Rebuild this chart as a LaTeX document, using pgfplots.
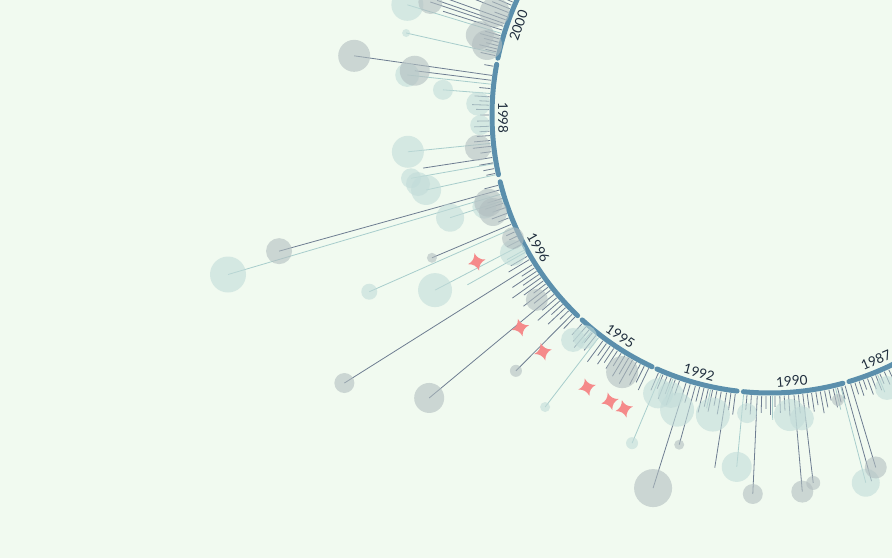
\documentclass[border=0pt]{standalone}
\usepackage{pgfplots}
\pgfplotsset{compat=1.18}
\usepackage{fontspec}
\setmainfont{Lato}

\definecolor{bg}{HTML}{F1FAF0}
\definecolor{arcc}{HTML}{5B8FAC}
\definecolor{stemd}{RGB}{110,125,145}
\definecolor{steml}{HTML}{A8CDCC}
\definecolor{bubl}{RGB}{194,220,217}
\definecolor{bubg}{RGB}{178,190,192}
\definecolor{starc}{HTML}{F58A8A}
\definecolor{txt}{HTML}{1F2D3D}

% four-pointed star
\pgfdeclareplotmark{sparkle}{%
  \pgfpathmoveto{\pgfqpoint{0pt}{\pgfplotmarksize}}%
  \pgfpathquadraticcurveto{\pgfqpoint{0.18\pgfplotmarksize}{0.18\pgfplotmarksize}}{\pgfqpoint{\pgfplotmarksize}{0pt}}%
  \pgfpathquadraticcurveto{\pgfqpoint{0.18\pgfplotmarksize}{-0.18\pgfplotmarksize}}{\pgfqpoint{0pt}{-\pgfplotmarksize}}%
  \pgfpathquadraticcurveto{\pgfqpoint{-0.18\pgfplotmarksize}{-0.18\pgfplotmarksize}}{\pgfqpoint{-\pgfplotmarksize}{0pt}}%
  \pgfpathquadraticcurveto{\pgfqpoint{-0.18\pgfplotmarksize}{0.18\pgfplotmarksize}}{\pgfqpoint{0pt}{\pgfplotmarksize}}%
  \pgfpathclose\pgfusepathqfill}

% filled disc without outline
\pgfdeclareplotmark{disc}{%
  \pgfpathcircle{\pgfpointorigin}{\pgfplotmarksize}\pgfusepathqfill}

% stems: angle (deg), radius; each stem runs from r=281 outwards, nan rows break the line
\pgfplotstableread{
a r
153.5 281
153.5 300
nan nan
154.5 281
154.5 296
nan nan
155.5 281
155.5 310
nan nan
156.3 281
156.3 298
nan nan
157.0 281
157.0 320
nan nan
157.8 281
157.8 300
nan nan
158.6 281
158.6 345
nan nan
159.5 281
159.5 294
nan nan
160.2 281
160.2 360
nan nan
161.0 281
161.0 352
nan nan
161.6 281
161.6 358
nan nan
162.4 281
162.4 343
nan nan
163.6 281
163.6 297
nan nan
164.3 281
164.3 301
nan nan
165.0 281
165.0 296
nan nan
165.7 281
165.7 293
nan nan
166.4 281
166.4 299
nan nan
167.0 281
167.0 292
nan nan
167.8 281
167.8 296
nan nan
170.0 281
170.0 290
nan nan
171.9 281
171.9 420
nan nan
172.9 281
172.9 358
nan nan
174.6 281
174.6 292
nan nan
176.3 281
176.3 296
nan nan
177.2 281
177.2 291
nan nan
178.0 281
178.0 298
nan nan
178.9 281
178.9 294
nan nan
180.0 281
180.0 290
nan nan
181.2 281
181.2 293
nan nan
182.3 281
182.3 296
nan nan
183.3 281
183.3 291
nan nan
184.2 281
184.2 294
nan nan
185.2 281
185.2 297
nan nan
186.4 281
186.4 299
nan nan
187.5 281
187.5 292
nan nan
188.7 281
188.7 351
nan nan
189.8 281
189.8 295
nan nan
191.0 281
191.0 292
nan nan
192.0 281
192.0 290
nan nan
194.5 281
194.5 295
nan nan
195.5 281
195.5 509.5
nan nan
197.3 281
197.3 296
nan nan
198.3 281
198.3 300
nan nan
199.3 281
199.3 294
nan nan
200.5 281
200.5 297
nan nan
201.5 281
201.5 292
nan nan
202.9 281
202.9 367
nan nan
204.6 281
204.6 290
nan nan
205.6 281
205.6 289
nan nan
206.6 281
206.6 294
nan nan
207.5 281
207.5 290
nan nan
210.2 281
210.2 300
nan nan
211.0 281
211.0 305
nan nan
212.2 281
212.2 503
nan nan
213.0 281
213.0 296
nan nan
213.8 281
213.8 310
nan nan
214.6 281
214.6 300
nan nan
215.4 281
215.4 316
nan nan
216.2 281
216.2 305
nan nan
217.0 281
217.0 296
nan nan
217.8 281
217.8 312
nan nan
218.6 281
218.6 302
nan nan
219.7 281
219.7 443
nan nan
220.6 281
220.6 300
nan nan
221.5 281
221.5 310
nan nan
222.4 281
222.4 296
nan nan
223.3 281
223.3 305
nan nan
224.2 281
224.2 293
nan nan
225.2 281
225.2 360.6
nan nan
226.0 281
226.0 297
nan nan
228.0 281
228.0 296
nan nan
229.0 281
229.0 300
nan nan
229.9 281
229.9 304
nan nan
230.8 281
230.8 294
nan nan
231.7 281
231.7 300
nan nan
233.5 281
233.5 307
nan nan
234.4 281
234.4 296
nan nan
235.3 281
235.3 303
nan nan
236.2 281
236.2 298
nan nan
237.1 281
237.1 302
nan nan
238.0 281
238.0 296
nan nan
238.9 281
238.9 305
nan nan
239.8 281
239.8 300
nan nan
240.7 281
240.7 308
nan nan
241.6 281
241.6 296
nan nan
242.5 281
242.5 304
nan nan
243.4 281
243.4 299
nan nan
244.4 281
244.4 305
nan nan
246.6 281
246.6 300
nan nan
247.6 281
247.6 296
nan nan
248.5 281
248.5 305
nan nan
249.4 281
249.4 298
nan nan
250.3 281
250.3 308
nan nan
251.2 281
251.2 296
nan nan
252.6 281
252.6 391
nan nan
253.5 281
253.5 300
nan nan
254.6 281
254.6 342
nan nan
255.5 281
255.5 296
nan nan
256.4 281
256.4 306
nan nan
257.3 281
257.3 299
nan nan
258.2 281
258.2 303
nan nan
259.1 281
259.1 296
nan nan
260.0 281
260.0 304
nan nan
261.1 281
261.1 357
nan nan
262.0 281
262.0 298
nan nan
262.9 281
262.9 302
nan nan
265.3 281
265.3 296
nan nan
266.2 281
266.2 300
nan nan
267.4 281
267.4 379.4
nan nan
268.3 281
268.3 298
nan nan
269.2 281
269.2 294
nan nan
270.1 281
270.1 300
nan nan
271.0 281
271.0 292
nan nan
272.0 281
272.0 298
nan nan
272.9 281
272.9 296
nan nan
273.8 281
273.8 302
nan nan
274.9 281
274.9 378
nan nan
275.8 281
275.8 300
nan nan
276.7 281
276.7 370.5
nan nan
277.6 281
277.6 296
nan nan
278.5 281
278.5 300
nan nan
279.4 281
279.4 294
nan nan
280.3 281
280.3 303
nan nan
281.2 281
281.2 298
nan nan
282.1 281
282.1 292
nan nan
283.0 281
283.0 300
nan nan
283.9 281
283.9 296
nan nan
284.8 281
284.8 294
nan nan
285.5 281
285.5 380
nan nan
286.7 281
286.7 368
nan nan
287.6 281
287.6 293
nan nan
288.5 281
288.5 296
nan nan
289.4 281
289.4 291
nan nan
290.3 281
290.3 298
nan nan
291.2 281
291.2 294
nan nan
292.1 281
292.1 297
nan nan
293.0 281
293.0 292
nan nan
294.0 281
294.0 295
nan nan
295.0 281
295.0 299
nan nan
296.0 281
296.0 293
nan nan
297.0 281
297.0 296
nan nan
298.0 281
298.0 292
nan nan
299.0 281
299.0 295
}\darkstems

\pgfplotstableread{
a r
163.1 281
163.1 379
nan nan
167.3 281
167.3 373
nan nan
173.7 281
173.7 365
nan nan
175.6 281
175.6 328
nan nan
185.8 281
185.8 364
nan nan
190.0 281
190.0 364.5
nan nan
192.3 281
192.3 352
nan nan
196.4 281
196.4 565
nan nan
197.8 281
197.8 336
nan nan
203.8 281
203.8 438
nan nan
207.6 281
207.6 378
nan nan
208.8 281
208.8 300
nan nan
209.3 281
209.3 347
nan nan
230.5 281
230.5 296
nan nan
232.4 281
232.4 368.6
nan nan
247.2 281
247.2 356
nan nan
249.8 281
249.8 302
nan nan
257.8 281
257.8 300
nan nan
264.6 281
264.6 353.5
nan nan
270.5 281
270.5 305
nan nan
283.5 281
283.5 303
nan nan
284.6 281
284.6 380
nan nan
292.5 281
292.5 300
}\lightstems

% bubbles: angle, radius, bubble size (px)
\pgfplotstableread{
a r s
159.5 294 15
161.6 358 12
164.6 301 14
166.1 291.5 15
171.9 420 16
172.9 358 15
186.4 294 13
195.5 509.5 13
197.3 295 14
199.3 293.5 14
202.9 367 5
205.6 285 11
212.2 503 10
218.4 297.5 11
219.7 443 15
225.2 360.6 6
240.1 296.6 16
252.6 391 19
254.6 342 5
267.4 379.4 10
274.9 378 11
276.7 370.5 7
283.4 293 6
286.7 368 11
}\greybubbles

\pgfplotstableread{
a r s
163.1 379 16
167.3 373 4
173.7 365 12
175.6 328 10
177.8 292 12
182.0 290 10
185.8 364 16
190.0 364.5 10
191.1 358.7 12
192.3 352 15
196.4 565 18
197.8 336 14
197.8 300 12
203.8 438 8
207.6 378 17
208.2 291.7 13
228.8 299 12
230.2 289 12
232.4 368.6 5
247.2 356 6
248.1 300 15
250.5 297 13
252.5 309 17
259.2 305 17
264.6 353.5 15
265.6 299 10
273.8 300.7 16
276.0 305 12
284.6 380 14
293.2 297 12
}\lightbubbles

\begin{document}
\begin{tikzpicture}
\begin{axis}[
  x=1pt, y=1pt,
  xmin=-770, xmax=122,
  ymin=-443, ymax=115,
  axis line style={draw=none},
  xtick=\empty, ytick=\empty,
  axis background/.style={fill=bg},
  unbounded coords=jump,
]

% bubbles
\addplot[scatter, only marks, mark=disc, data cs=polar,
  scatter/use mapped color={fill=bubl, fill opacity=0.6},
  visualization depends on={\thisrow{s} \as \bsize},
  scatter/@pre marker code/.append style={/tikz/mark size=\bsize}]
  table[x=a, y=r] {\lightbubbles};
\addplot[scatter, only marks, mark=disc, data cs=polar,
  scatter/use mapped color={fill=bubg, fill opacity=0.6},
  visualization depends on={\thisrow{s} \as \bsize},
  scatter/@pre marker code/.append style={/tikz/mark size=\bsize}]
  table[x=a, y=r] {\greybubbles};

% stems
\addplot[steml, line width=0.8pt, no marks, data cs=polar] table[x=a, y=r] {\lightstems};
\addplot[stemd, line width=0.8pt, no marks, data cs=polar] table[x=a, y=r] {\darkstems};

% year arcs
\draw[arcc, line width=5pt, line cap=round] (axis cs:{278*cos(152.6)},{278*sin(152.6)}) arc[start angle=152.6, end angle=168.2, radius=278pt];
\draw[arcc, line width=5pt, line cap=round] (axis cs:{278*cos(169.5)},{278*sin(169.5)}) arc[start angle=169.5, end angle=192.4, radius=278pt];
\draw[arcc, line width=5pt, line cap=round] (axis cs:{278*cos(193.9)},{278*sin(193.9)}) arc[start angle=193.9, end angle=226.2, radius=278pt];
\draw[arcc, line width=5pt, line cap=round] (axis cs:{278*cos(227.5)},{278*sin(227.5)}) arc[start angle=227.5, end angle=244.9, radius=278pt];
\draw[arcc, line width=5pt, line cap=round] (axis cs:{278*cos(246.0)},{278*sin(246.0)}) arc[start angle=246.0, end angle=263.2, radius=278pt];
\draw[arcc, line width=5pt, line cap=round] (axis cs:{278*cos(264.5)},{278*sin(264.5)}) arc[start angle=264.5, end angle=285.2, radius=278pt];
\draw[arcc, line width=5pt, line cap=round] (axis cs:{278*cos(286.5)},{278*sin(286.5)}) arc[start angle=286.5, end angle=300.3, radius=278pt];

% year labels
\begin{scope}[every node/.style={text=txt, font=\fontsize{13.5}{13.5}\selectfont, inner sep=0pt}]
\node[rotate=70.4]  at (axis cs:{267*cos(160.4)},{267*sin(160.4)}) {2000};
\node[rotate=-89.4] at (axis cs:{267*cos(180.6)},{267*sin(180.6)}) {1998};
\node[rotate=-60.2] at (axis cs:{267*cos(209.8)},{267*sin(209.8)}) {1996};
\node[rotate=-34.1] at (axis cs:{267*cos(235.9)},{267*sin(235.9)}) {1995};
\node[rotate=-15.4] at (axis cs:{267*cos(254.6)},{267*sin(254.6)}) {1992};
\node[rotate=4.7]   at (axis cs:{267*cos(274.7)},{267*sin(274.7)}) {1990};
\node[rotate=23.4]  at (axis cs:{267*cos(293.4)},{267*sin(293.4)}) {1987};
\end{scope}

% stars
\addplot[only marks, mark=sparkle, mark size=9, data cs=polar,
  mark options={fill=starc, draw=none, rotate=15}]
  coordinates {(206.6,328) (220.4,328) (226.2,328) (236.1,328) (240.8,328) (243.6,328)};

\end{axis}
\pgfresetboundingbox
\path[use as bounding box] (current axis.south west) rectangle (current axis.north east);
\end{tikzpicture}
\end{document}
